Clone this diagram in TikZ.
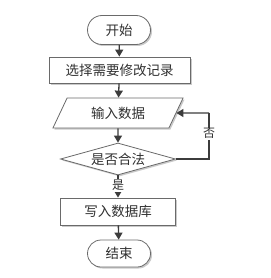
\documentclass[tikz,border=0pt]{standalone}
\usepackage{fontspec}
\newfontfamily\cjk{Noto Sans CJK SC}
\usetikzlibrary{shapes.geometric,shapes.misc,arrows.meta,shadows}
\definecolor{bord}{HTML}{6A6A6A}
\definecolor{arr}{HTML}{3C3C3C}
\definecolor{txt}{HTML}{303030}
\begin{document}
\begin{tikzpicture}[x=1pt,y=-1pt,
  font=\cjk\fontsize{13.5}{15}\selectfont, text=txt,
  base/.style={draw=bord, line width=0.8pt, fill=white, inner sep=0pt,
    drop shadow={shadow xshift=1.5pt, shadow yshift=-1.5pt, fill=black!35, opacity=0.6}},
  term/.style={base, rounded rectangle, minimum width=63pt, minimum height=29pt},
  proc/.style={base, rectangle, minimum height=26pt},
  io/.style={base, trapezium, trapezium left angle=59, trapezium right angle=121,
    trapezium stretches=true, minimum width=131pt, minimum height=30pt},
  dec/.style={base, diamond, aspect=3.6, minimum width=115pt, minimum height=32pt},
  flow/.style={draw=arr, line width=1.3pt, -{Triangle[length=7pt,width=8pt]}},
  lbl/.style={font=\cjk\fontsize{12}{13}\selectfont, fill=white, inner sep=1pt}]
\useasboundingbox (0,0) rectangle (270,278);
\node[term] (start) at (119,30) {开始};
\node[proc, minimum width=141pt] (sel) at (119.5,70) {选择需要修改记录};
\node[io] (inp) at (118,113) {输入数据};
\node[dec] (chk) at (118,159) {是否合法};
\node[proc, minimum width=115pt, minimum height=27pt] (wr) at (118,211.5) {写入数据库};
\node[term, minimum height=27pt] (fin) at (119,253.5) {结束};
\coordinate (c1) at (209,159);
\coordinate (c2) at (209,113);
\draw[flow] (start) -- (sel);
\draw[flow] (sel) -- (inp);
\draw[flow] (inp) -- (chk);
\draw[flow] (chk) -- node[lbl, pos=0.45] {是} (wr);
\draw[flow] (wr) -- (fin);
\draw[draw=arr, line width=1.3pt] (chk.east) -- (c1) -- node[lbl, pos=0.55] {否} (c2);
\draw[flow] (c2) -- (inp.east);
\end{tikzpicture}
\end{document}
